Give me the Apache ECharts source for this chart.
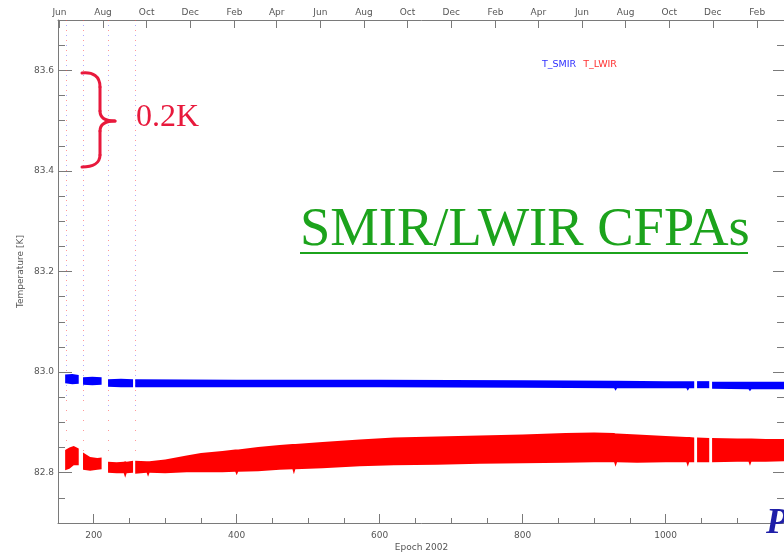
<!DOCTYPE html>
<html>
<head>
<meta charset="utf-8">
<title>SMIR/LWIR CFPAs</title>
<script src="https://cdn.jsdelivr.net/npm/echarts@6.0.0/dist/echarts.min.js"></script>
<style>
html, body { margin:0; padding:0; background:#fff; }
#main { width:784px; height:555px; }
</style>
</head>
<body>
<div id="main"></div>
<script>
// epoch = day number in 2002 (1 Jan 2002 = 1)
var monthTicks = [152, 213, 274, 335, 397, 456, 517, 578, 639, 700, 762, 822, 883, 944, 1005, 1066, 1128];
var monthLabels = ['Jun','Aug','Oct','Dec','Feb','Apr','Jun','Aug','Oct','Dec','Feb','Apr','Jun','Aug','Oct','Dec','Feb'];
var epochTicks = [200, 400, 600, 800, 1000];
var tempTicks = [82.8, 83.0, 83.2, 83.4, 83.6];

// T_LWIR noise band (lower / upper edge), null = data gap
var lwirEpoch = [160,166,172,179, 182,
	185,195,205,211, 216,
	220,232,242,244,246,255, 256.5,
	258,274,276,278,300,330,350,380,398,400,402,430,460,478,480,482,520,572,620,680,740,800,860,900,928,930,932,960,1000,1029,1031,1033,1040, 1042,
	1044,1061, 1063,
	1065,1100,1116,1118,1120,1140,1167];
var lwirLow  = [82.805,82.808,82.815,82.815, null,
	82.806,82.804,82.806,82.807, null,
	82.800,82.799,82.799,82.790,82.799,82.800, null,
	82.798,82.800,82.792,82.800,82.799,82.801,82.801,82.801,82.802,82.795,82.802,82.803,82.806,82.807,82.797,82.807,82.809,82.813,82.815,82.816,82.818,82.819,82.820,82.821,82.821,82.812,82.821,82.820,82.821,82.821,82.812,82.821,82.821, null,
	82.821,82.821, null,
	82.821,82.822,82.822,82.814,82.822,82.822,82.823];
var lwirHigh = [82.845,82.850,82.853,82.848, null,
	82.840,82.831,82.829,82.830, null,
	82.822,82.821,82.822,82.823,82.822,82.824, null,
	82.824,82.823,82.823,82.823,82.826,82.834,82.839,82.843,82.846,82.846,82.846,82.851,82.855,82.857,82.857,82.857,82.861,82.866,82.870,82.872,82.874,82.876,82.879,82.880,82.879,82.878,82.878,82.876,82.873,82.871,82.871,82.871,82.870, null,
	82.870,82.869, null,
	82.869,82.868,82.868,82.868,82.868,82.867,82.867];

// T_SMIR noise band
var smirEpoch = [160,170,179, 182,
	185,198,211, 216,
	220,238,255, 256.5,
	258,400,600,800,928,930,932,1000,1029,1031,1033,1040, 1042,
	1044,1061, 1063,
	1065,1116,1118,1120,1167];
var smirLow  = [82.978,82.976,82.977, null,
	82.975,82.974,82.975, null,
	82.971,82.970,82.970, null,
	82.970,82.970,82.970,82.969,82.968,82.963,82.968,82.968,82.968,82.963,82.968,82.968, null,
	82.968,82.968, null,
	82.967,82.966,82.962,82.966,82.966];
var smirHigh = [82.995,82.996,82.994, null,
	82.990,82.991,82.990, null,
	82.986,82.987,82.986, null,
	82.986,82.985,82.985,82.984,82.983,82.983,82.983,82.982,82.982,82.982,82.982,82.982, null,
	82.982,82.982, null,
	82.981,82.981,82.981,82.981,82.981];

// sparse outlier columns
var spikeEpochs = [162, 185, 220, 258];
var spikeBottom = [82.85, 82.84, 82.83, 82.83];

var axisGray = '#7a7a7a';
var labelGray = '#555';
var smallFont = 'DejaVu Sans';
var braceRed = '#e8193c';

// split a band into continuous pieces at the null gaps
function bandSegments(epochs, low, high) {
	var segs = [], cur = null;
	for (var i = 0; i < epochs.length; i++) {
		if (low[i] == null) { cur = null; continue; }
		if (!cur) { cur = {e:[], lo:[], hi:[]}; segs.push(cur); }
		cur.e.push(epochs[i]); cur.lo.push(low[i]); cur.hi.push(high[i]);
	}
	return segs;
}
function bandRenderer(segs, color) {
	return function(params, api) {
		var s = segs[params.dataIndex];
		var pts = [], i;
		for (i = 0; i < s.e.length; i++) pts.push(api.coord([s.e[i], s.hi[i]]));
		for (i = s.e.length - 1; i >= 0; i--) pts.push(api.coord([s.e[i], s.lo[i]]));
		return {type:'polygon', shape:{points:pts}, style:{fill:color}};
	};
}
function spikeLines(bottomOffset) {
	return spikeEpochs.map(function(e, i){
		return [{coord:[e, 83.7]}, {coord:[e, spikeBottom[i] + bottomOffset]}];
	});
}

function xBase(extra) {
	var o = {
		type:'value', min:150, max:1167, gridIndex:0,
		splitLine:{show:false},
		axisLine:{show:true, onZero:false, lineStyle:{color:axisGray, width:1}},
		axisTick:{show:true, inside:true, lineStyle:{color:axisGray}},
		axisLabel:{color:labelGray, fontSize:9, fontFamily:smallFont}
	};
	return echarts.util.merge(o, extra, true);
}
function yBase(extra) {
	var o = {
		type:'value', min:82.7, max:83.7, gridIndex:0,
		splitLine:{show:false},
		axisLine:{show:true, onZero:false, lineStyle:{color:axisGray, width:1}},
		axisTick:{show:true, inside:true, lineStyle:{color:axisGray}},
		axisLabel:{color:labelGray, fontSize:9, fontFamily:smallFont}
	};
	return echarts.util.merge(o, extra, true);
}

// the curly brace next to the 0.2K note
function braceCurve(s) {
	return {type:'bezierCurve', z:100, shape:s,
		style:{fill:null, stroke:braceRed, lineWidth:3, lineCap:'round'}};
}
function braceLine(s) {
	return {type:'line', z:100, shape:s,
		style:{stroke:braceRed, lineWidth:3, lineCap:'round'}};
}

var mainChart = null;
var chartOpt = null;
function initChart() {
	mainChart = echarts.init(document.getElementById('main'), null, {renderer:'canvas'});

	var lwirSegs = bandSegments(lwirEpoch, lwirLow, lwirHigh);
	var smirSegs = bandSegments(smirEpoch, smirLow, smirHigh);

	chartOpt = {
		animation:false,
		backgroundColor:'#ffffff',
		grid:{left:58, top:20, width:727, height:503, containLabel:false, outerBoundsMode:'none'},
		legend:{
			left:537, top:60, padding:0, itemGap:2, itemWidth:0, itemHeight:0,
			selectedMode:false, icon:'rect',
			itemStyle:{opacity:0}, lineStyle:{opacity:0},
			textStyle:{fontSize:9.5, fontFamily:smallFont},
			data:[
				{name:'T_SMIR', textStyle:{color:'#3030ff'}},
				{name:'T_LWIR', textStyle:{color:'#ff3030'}}
			]
		},
		xAxis:[
			xBase({
				position:'bottom',
				axisTick:{length:9, customValues:epochTicks},
				axisLabel:{customValues:epochTicks, margin:8, formatter:function(v){ return String(v); }},
				name:'Epoch 2002', nameLocation:'middle', nameGap:20, nameMoveOverlap:false,
				nameTextStyle:{color:labelGray, fontSize:9, fontFamily:smallFont}
			}),
			xBase({
				position:'bottom', interval:50,
				axisLine:{show:false}, axisTick:{length:5}, axisLabel:{show:false}
			}),
			xBase({
				position:'top',
				axisTick:{length:8, customValues:monthTicks},
				axisLabel:{customValues:monthTicks, margin:3, formatter:function(v){
					var i = monthTicks.indexOf(Math.round(v));
					return i < 0 ? '' : monthLabels[i];
				}}
			})
		],
		yAxis:[
			yBase({
				position:'left',
				axisTick:{length:14, customValues:tempTicks},
				axisLabel:{customValues:tempTicks, margin:4, formatter:function(v){ return v.toFixed(1); }},
				name:'Temperature [K]', nameLocation:'middle', nameGap:33, nameMoveOverlap:false,
				nameTextStyle:{color:labelGray, fontSize:9, fontFamily:smallFont}
			}),
			yBase({
				position:'left', interval:0.05,
				axisLine:{show:false}, axisTick:{length:7}, axisLabel:{show:false}
			}),
			yBase({
				position:'right',
				axisTick:{length:12, customValues:tempTicks}, axisLabel:{show:false}
			}),
			yBase({
				position:'right', interval:0.05,
				axisLine:{show:false}, axisTick:{length:8}, axisLabel:{show:false}
			})
		],
		series:[
			{
				name:'T_LWIR', type:'custom', color:'#ff0000', clip:true,
				renderItem:bandRenderer(lwirSegs, '#ff0000'),
				encode:{x:0, y:1},
				data:lwirSegs.map(function(s){ return [s.e[0], s.lo[0]]; }),
				markLine:{
					silent:true, symbol:'none', label:{show:false}, z:1,
					lineStyle:{color:'rgba(255,70,70,0.55)', width:1, type:[1,9]},
					data:spikeLines(0)
				}
			},
			{
				name:'T_SMIR', type:'custom', color:'#0000ff', clip:true,
				renderItem:bandRenderer(smirSegs, '#0000ff'),
				encode:{x:0, y:1},
				data:smirSegs.map(function(s){ return [s.e[0], s.lo[0]]; }),
				markLine:{
					silent:true, symbol:'none', label:{show:false}, z:1,
					lineStyle:{color:'rgba(90,90,255,0.5)', width:1, type:[1,9], dashOffset:5},
					data:spikeLines(0.1)
				}
			}
		],
		graphic:{elements:[
			braceCurve({x1:82, y1:73, cpx1:93, cpy1:72, cpx2:100, cpy2:76, x2:100, y2:87}),
			braceLine({x1:100, y1:87, x2:100, y2:111}),
			braceCurve({x1:100, y1:111, cpx1:100, cpy1:117, cpx2:104, cpy2:121, x2:115, y2:121}),
			braceCurve({x1:115, y1:121, cpx1:104, cpy1:121, cpx2:100, cpy2:125, x2:100, y2:131}),
			braceLine({x1:100, y1:131, x2:100, y2:155}),
			braceCurve({x1:100, y1:155, cpx1:100, cpy1:163, cpx2:93, cpy2:167, x2:82, y2:167}),
			{
				type:'text', z:100,
				style:{text:'0.2K', x:136, y:118, fill:braceRed, fontSize:32,
					fontFamily:'Liberation Serif', verticalAlign:'middle'}
			},
			{
				type:'text', z:100,
				style:{text:'SMIR/LWIR CFPAs', x:300, y:231, fill:'#1ca31c', fontSize:54.5,
					fontFamily:'Liberation Serif', verticalAlign:'middle'}
			},
			{
				type:'line', z:100,
				shape:{x1:300, y1:253, x2:748, y2:253},
				style:{stroke:'#1ca31c', lineWidth:2}
			},
			{
				type:'text', z:100,
				style:{text:'P', x:766, y:524, fill:'#1f1fa8', fontSize:36,
					fontWeight:'bold', fontStyle:'italic',
					fontFamily:'Liberation Serif', verticalAlign:'middle'}
			}
		]}
	};

	mainChart.setOption(chartOpt);
}
initChart();
</script>
</body>
</html>
